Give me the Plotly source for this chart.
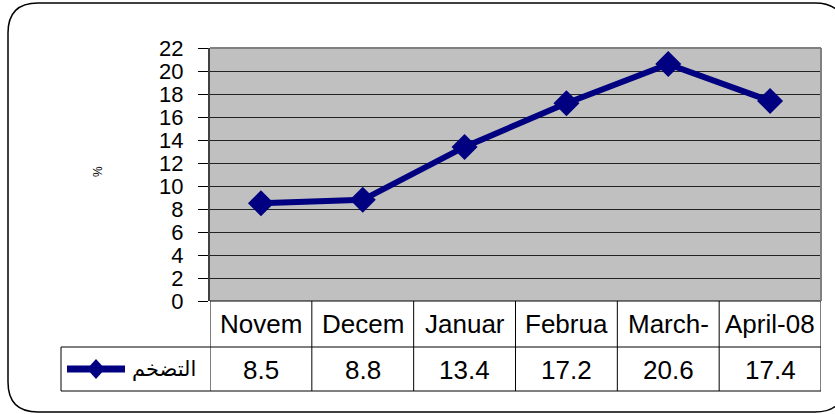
import plotly.graph_objects as go

categories = ["Novem", "Decem", "Januar", "Februa", "March-", "April-08"]
values = [8.5, 8.8, 13.4, 17.2, 20.6, 17.4]
value_labels = ["8.5", "8.8", "13.4", "17.2", "20.6", "17.4"]
series_name = "التضخم"
y_ticks = list(range(0, 23, 2))

W, H = 835, 414
L, R, T, B = 210, 821, 48, 301
PW, PH = R - L, B - T


def px(x):
    return (x - L) / PW


def py(y):
    return (B - y) / PH


NAVY = "#000080"
FONT = "Liberation Sans, Arial, sans-serif"

fig = go.Figure()
fig.add_trace(go.Scatter(
    x=list(range(len(categories))), y=values, mode="lines+markers",
    line=dict(color=NAVY, width=6),
    marker=dict(symbol="diamond", size=20, color=NAVY, line=dict(width=0)),
    showlegend=False, hoverinfo="skip",
))

shapes = []
annotations = []

# table rows
row1_bottom = py(347)
row2_bottom = py(391)
n = len(categories)
for i in range(n + 1):
    shapes.append(dict(type="line", xref="x", yref="paper", x0=i - 0.5, x1=i - 0.5,
                       y0=0, y1=row2_bottom, line=dict(color="black", width=1)))
shapes.append(dict(type="line", xref="paper", yref="paper", x0=0, x1=1, y0=0, y1=0,
                   line=dict(color="black", width=1)))
shapes.append(dict(type="line", xref="paper", yref="paper", x0=px(61), x1=1,
                   y0=row1_bottom, y1=row1_bottom, line=dict(color="black", width=1)))
shapes.append(dict(type="line", xref="paper", yref="paper", x0=px(61), x1=1,
                   y0=row2_bottom, y1=row2_bottom, line=dict(color="black", width=1)))
shapes.append(dict(type="line", xref="paper", yref="paper", x0=px(61), x1=px(61),
                   y0=row1_bottom, y1=row2_bottom, line=dict(color="black", width=1)))

# plot border top/right (gray)
shapes.append(dict(type="line", xref="paper", yref="paper", x0=0, x1=1, y0=1, y1=1,
                   line=dict(color="#808080", width=2)))
shapes.append(dict(type="line", xref="paper", yref="paper", x0=1, x1=1, y0=0, y1=1,
                   line=dict(color="#808080", width=2)))

# legend symbol
ly = py(369)
shapes.append(dict(type="line", xref="paper", yref="paper", x0=px(67), x1=px(125),
                   y0=ly, y1=ly, line=dict(color=NAVY, width=7)))
cx, cy = 96, 369
dx, dy = 9, 10
shapes.append(dict(type="path", xref="paper", yref="paper",
                   path=f"M {px(cx - dx)},{py(cy)} L {px(cx)},{py(cy - dy)} L {px(cx + dx)},{py(cy)} L {px(cx)},{py(cy + dy)} Z",
                   fillcolor=NAVY, line=dict(color=NAVY, width=0)))
annotations.append(dict(xref="paper", yref="paper", x=px(198), y=ly, text=series_name,
                        showarrow=False, xanchor="right", yanchor="middle",
                        font=dict(size=21, color="black", family="DejaVu Sans, sans-serif")))

# outer rounded frame
x0, x1 = px(8), px(845)
y0, y1 = py(412), py(3)
rx, ry = 30 / PW, 30 / PH
path = (f"M {x0 + rx},{y1} L {x1 - rx},{y1} Q {x1},{y1} {x1},{y1 - ry} "
        f"L {x1},{y0 + ry} Q {x1},{y0} {x1 - rx},{y0} L {x0 + rx},{y0} "
        f"Q {x0},{y0} {x0},{y0 + ry} L {x0},{y1 - ry} Q {x0},{y1} {x0 + rx},{y1} Z")
shapes.append(dict(type="path", xref="paper", yref="paper", path=path,
                   line=dict(color="black", width=1.5), layer="below"))

# table text
for i, (c, v) in enumerate(zip(categories, value_labels)):
    annotations.append(dict(xref="x", yref="paper", x=i, y=py(324), text=c, showarrow=False,
                            xanchor="center", yanchor="middle",
                            font=dict(size=26, color="black", family=FONT)))
    annotations.append(dict(xref="x", yref="paper", x=i, y=py(370), text=v, showarrow=False,
                            xanchor="center", yanchor="middle",
                            font=dict(size=26, color="black", family=FONT)))

annotations.append(dict(xref="paper", yref="paper", x=px(98), y=py(172), text="%",
                        showarrow=False, textangle=-90, xanchor="center", yanchor="middle",
                        font=dict(size=12, color="black", family=FONT)))

fig.update_layout(
    width=W, height=H,
    margin=dict(l=L, r=W - R, t=T, b=H - B),
    paper_bgcolor="white", plot_bgcolor="#C0C0C0",
    xaxis=dict(range=[-0.5, n - 0.5], showticklabels=False, showgrid=False,
               zeroline=False, ticks="", fixedrange=True),
    yaxis=dict(range=[0, 22], tickvals=y_ticks, ticks="outside", ticklen=10,
               tickcolor="black", tickwidth=1, showgrid=True, gridcolor="#222222",
               gridwidth=1, zeroline=False, showline=True, linecolor="#404040",
               linewidth=2, ticklabelstandoff=10, fixedrange=True,
               tickfont=dict(size=22, color="black", family=FONT)),
    shapes=shapes, annotations=annotations, showlegend=False,
)

fig.write_html("out.html", config={"displayModeBar": False},
               post_script="document.body.style.margin='0';")
